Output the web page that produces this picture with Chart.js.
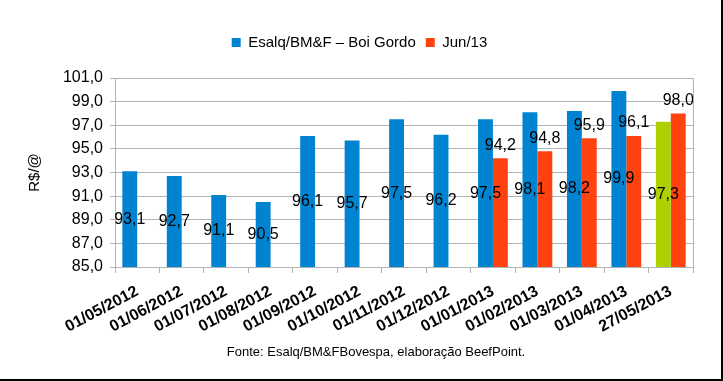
<!DOCTYPE html>
<html>
<head>
<meta charset="utf-8">
<script src="https://cdn.jsdelivr.net/npm/chart.js@4"></script>
<style>
  html, body { margin: 0; padding: 0; background: #fff; }
  #wrap { position: relative; width: 723px; height: 381px; }
</style>
</head>
<body>
<div id="wrap"><canvas id="chart" width="723" height="381"></canvas></div>
<script>
// values
const categories = ['01/05/2012', '01/06/2012', '01/07/2012', '01/08/2012',
                    '01/09/2012', '01/10/2012', '01/11/2012', '01/12/2012',
                    '01/01/2013', '01/02/2013', '01/03/2013', '01/04/2013',
                    '27/05/2013']
const boiGordo = [93.1, 92.7, 91.1, 90.5, 96.1, 95.7, 97.5, 96.2, 97.5, 98.1, 98.2, 99.9, 97.3]
const jun13 = [null, null, null, null, null, null, null, null, 94.2, 94.8, 95.9, 96.1, 98.0]
const yTicks = [85, 87, 89, 91, 93, 95, 97, 99, 101]

const BLUE = '#0084d1'
const ORANGE = '#ff420e'
const GREEN = '#aecf00'
const GRID = '#b3b3b3'
const FONT = "'Liberation Sans', Arial, sans-serif"

const fmt = v => v.toFixed(1).replace('.', ',')

// last blue bar (the current day) is drawn green
const blueColors = boiGordo.map((v, i) => i === boiGordo.length - 1 ? GREEN : BLUE)

let labelsPlugin = {
    id: 'valueLabels',
    afterDatasetsDraw(chart) {
        const ctx = chart.ctx
        const y = chart.scales.y
        ctx.save()
        ctx.font = '16px ' + FONT
        ctx.fillStyle = '#000'
        ctx.textAlign = 'center'
        chart.data.datasets.forEach((ds, di) => {
            const meta = chart.getDatasetMeta(di)
            meta.data.forEach((bar, i) => {
                const v = ds.data[i]
                if (v == null) return
                if (di === 0) {
                    // blue labels sit in the middle of the bar
                    ctx.textBaseline = 'middle'
                    ctx.fillText(fmt(v), bar.x, y.getPixelForValue((v + y.min) / 2))
                } else {
                    ctx.textBaseline = 'bottom'
                    ctx.fillText(fmt(v), bar.x, y.getPixelForValue(v) - 5)
                }
            })
        })
        ctx.restore()
    }
}

let framePlugin = {
    id: 'frame',
    beforeInit(chart) {
        // extra room below the legend
        const fit = chart.legend.fit
        chart.legend.fit = function () {
            fit.call(this)
            this.height += 18
        }
    },
    afterDraw(chart) {
        const ctx = chart.ctx
        const a = chart.chartArea
        ctx.save()
        // right edge of the plot
        ctx.strokeStyle = GRID
        ctx.lineWidth = 1
        ctx.beginPath()
        ctx.moveTo(Math.round(a.right) + 0.5, a.top)
        ctx.lineTo(Math.round(a.right) + 0.5, a.bottom)
        ctx.stroke()
        // source line
        ctx.font = '13px ' + FONT
        ctx.fillStyle = '#000'
        ctx.textAlign = 'center'
        ctx.textBaseline = 'middle'
        ctx.fillText('Fonte: Esalq/BM&FBovespa, elaboração BeefPoint.', 376, 352)
        // black frame on right and bottom
        ctx.fillStyle = '#000'
        ctx.fillRect(chart.width - 2, 0, 2, chart.height)
        ctx.fillRect(0, chart.height - 2, chart.width, 2)
        ctx.restore()
    }
}

let chart = new Chart(document.getElementById('chart'), {
    type: 'bar',
    data: {
        labels: categories,
        datasets: [{
            label: 'Esalq/BM&F – Boi Gordo',
            data: boiGordo,
            backgroundColor: blueColors,
            barPercentage: 1,
            categoryPercentage: 0.67
        }, {
            label: 'Jun/13',
            data: jun13,
            backgroundColor: ORANGE,
            barPercentage: 1,
            categoryPercentage: 0.67
        }]
    },
    options: {
        responsive: false,
        animation: false,
        layout: { padding: { top: 25, right: 30, bottom: 0, left: 26 } },
        plugins: {
            legend: {
                position: 'top',
                labels: {
                    boxWidth: 9,
                    boxHeight: 9,
                    padding: 10,
                    color: '#000',
                    font: { family: FONT, size: 15 },
                    generateLabels(chart) {
                        return chart.data.datasets.map((ds, i) => ({
                            text: ds.label,
                            fillStyle: i === 0 ? BLUE : ORANGE,
                            strokeStyle: i === 0 ? BLUE : ORANGE,
                            lineWidth: 0,
                            datasetIndex: i
                        }))
                    }
                }
            },
            tooltip: { enabled: false }
        },
        scales: {
            x: {
                grid: { drawOnChartArea: false, drawTicks: true, tickLength: 6, color: GRID, offset: true },
                border: { color: GRID },
                ticks: {
                    color: '#000',
                    font: { family: FONT, size: 16, weight: 'bold' },
                    minRotation: 28,
                    maxRotation: 28,
                    autoSkip: false,
                    padding: 9
                },
                afterFit(scale) { scale.height = 114 }
            },
            y: {
                min: yTicks[0],
                max: yTicks[yTicks.length - 1],
                afterBuildTicks(scale) { scale.ticks = yTicks.map(v => ({ value: v })) },
                grid: { color: GRID, tickLength: 5 },
                border: { color: GRID },
                ticks: {
                    color: '#000',
                    font: { family: FONT, size: 16 },
                    padding: 7,
                    callback: v => fmt(v)
                },
                title: {
                    display: true,
                    text: 'R$/@',
                    color: '#000',
                    font: { family: FONT, size: 15 },
                    padding: { top: 0, bottom: 0 }
                },
                afterFit(scale) { scale.width = 89 }
            }
        }
    },
    plugins: [labelsPlugin, framePlugin]
})
</script>
</body>
</html>
